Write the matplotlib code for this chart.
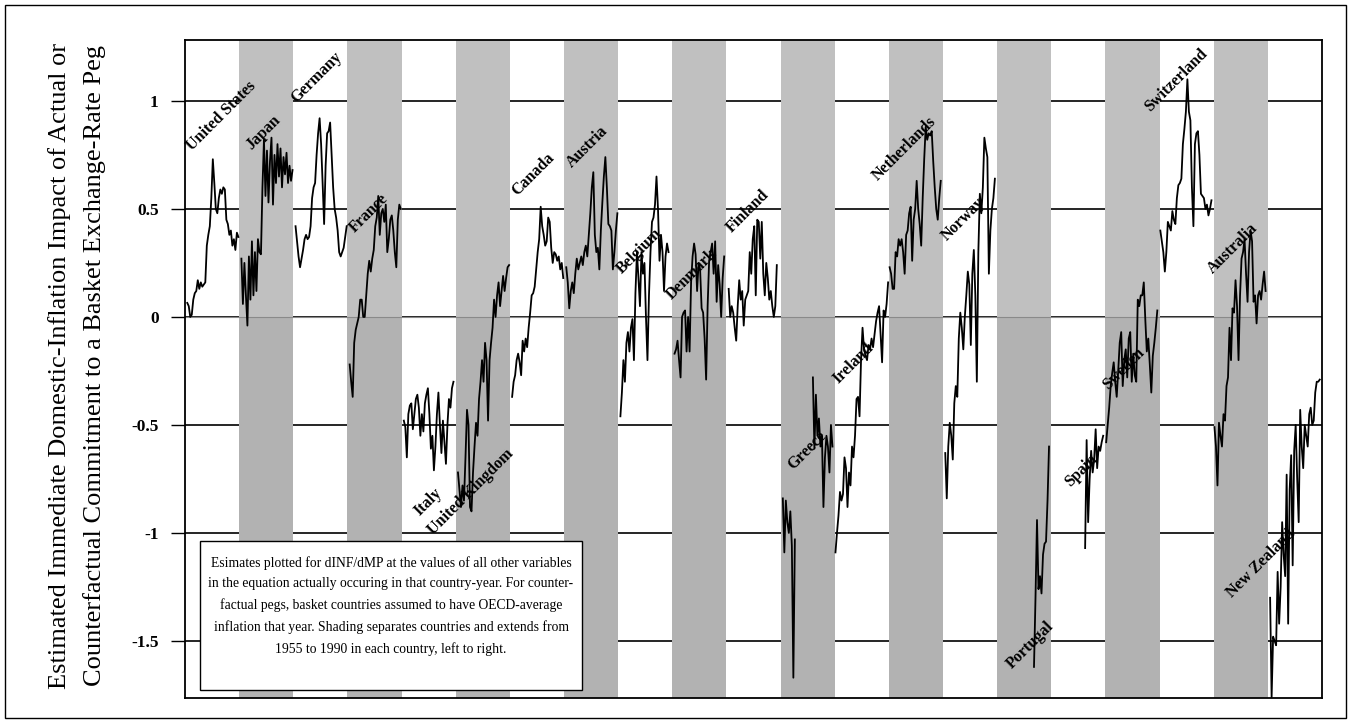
import numpy as np
import matplotlib.pyplot as plt
from matplotlib.patches import Rectangle

plt.rcParams['font.family'] = ['Liberation Serif', 'DejaVu Serif']

nan = np.nan

# one value per year, 1955-1990, for every country (nan = no estimate)
years = list(range(1955, 1991))

countries = ['United States', 'Japan', 'Germany', 'France', 'Italy', 'United Kingdom',
             'Canada', 'Austria', 'Belgium', 'Denmark', 'Finland', 'Greece', 'Ireland',
             'Netherlands', 'Norway', 'Portugal', 'Spain', 'Sweden', 'Switzerland',
             'Australia', 'New Zealand']

united_states = [nan, 0.065, 0.05, 0.0, 0.01, 0.08, 0.11, 0.12, 0.17, 0.13, 0.16, 0.14,
                 0.15, 0.16, 0.33, 0.38, 0.42, 0.55, 0.73, 0.62, 0.50, 0.48, 0.55, 0.59,
                 0.57, 0.60, 0.59, 0.45, 0.43, 0.38, 0.40, 0.33, 0.36, 0.31, 0.39, 0.37]
japan = [nan, 0.27, 0.06, 0.25, 0.10, -0.04, 0.28, 0.08, 0.35, 0.10, 0.30, 0.12,
         0.36, 0.30, 0.29, 0.60, 0.82, 0.56, 0.77, 0.53, 0.72, 0.83, 0.52, 0.75,
         0.62, 0.80, 0.65, 0.78, 0.60, 0.74, 0.66, 0.76, 0.62, 0.70, 0.63, 0.68]
germany = [nan, 0.42, 0.35, 0.28, 0.23, 0.27, 0.31, 0.36, 0.38, 0.36, 0.37, 0.42,
           0.55, 0.60, 0.62, 0.75, 0.85, 0.92, 0.80, 0.62, 0.43, 0.70, 0.85, 0.86,
           0.90, 0.75, 0.60, 0.50, 0.46, 0.40, 0.30, 0.28, 0.30, 0.32, 0.37, 0.42]
france = [nan, -0.22, -0.30, -0.37, -0.12, -0.06, -0.03, 0.0, 0.08, 0.08, 0.0, 0.0,
          0.10, 0.20, 0.26, 0.21, 0.27, 0.31, 0.42, 0.46, 0.56, 0.38, 0.48, 0.50,
          0.44, 0.52, 0.30, 0.36, 0.45, 0.47, 0.40, 0.30, 0.23, 0.45, 0.52, 0.50]
italy = [nan, -0.48, -0.51, -0.65, -0.45, -0.41, -0.40, -0.52, -0.45, -0.38, -0.36, -0.42,
         -0.55, -0.45, -0.53, -0.40, -0.36, -0.33, -0.45, -0.61, -0.55, -0.71, -0.60, -0.45,
         -0.35, -0.50, -0.63, -0.48, -0.58, -0.68, -0.50, -0.38, -0.42, -0.33, -0.30, nan]
united_kingdom = [nan, -0.72, -0.80, -0.88, -0.78, -0.85, -0.65, -0.43, -0.50, -0.88, -0.90, -0.72,
                  -0.60, -0.49, -0.55, -0.38, -0.30, -0.20, -0.30, -0.12, -0.20, -0.48, -0.20, -0.12,
                  -0.05, 0.08, 0.0, 0.10, 0.16, 0.05, 0.12, 0.19, 0.12, 0.18, 0.23, 0.24]
canada = [nan, -0.37, -0.30, -0.27, -0.20, -0.17, -0.21, -0.27, -0.11, -0.16, -0.10, -0.14,
          -0.05, 0.02, 0.10, 0.11, 0.14, 0.22, 0.30, 0.36, 0.51, 0.42, 0.38, 0.33,
          0.35, 0.46, 0.44, 0.32, 0.25, 0.30, 0.29, 0.26, 0.28, 0.22, 0.25, 0.18]
austria = [nan, 0.23, 0.16, 0.04, 0.12, 0.16, 0.11, 0.20, 0.27, 0.22, 0.25, 0.28,
           0.24, 0.30, 0.33, 0.28, 0.38, 0.48, 0.60, 0.67, 0.38, 0.30, 0.32, 0.22,
           0.40, 0.53, 0.65, 0.74, 0.60, 0.43, 0.42, 0.40, 0.22, 0.30, 0.40, 0.48]
belgium = [nan, -0.46, -0.35, -0.20, -0.30, -0.12, -0.07, -0.16, -0.05, -0.01, -0.20, 0.11,
           0.30, 0.18, 0.05, 0.30, 0.20, 0.25, 0.0, -0.20, 0.10, 0.30, 0.44, 0.46,
           0.52, 0.65, 0.50, 0.26, 0.38, 0.30, 0.12, 0.28, 0.34, 0.30, nan, nan]
denmark = [nan, -0.17, -0.15, -0.11, -0.20, -0.28, 0.0, 0.02, 0.03, -0.16, 0.0, -0.16,
           0.16, 0.28, 0.34, 0.29, 0.12, 0.25, 0.22, 0.04, 0.02, -0.10, -0.29, 0.05,
           0.26, 0.30, 0.34, 0.20, 0.35, 0.07, 0.24, 0.15, 0.0, 0.18, 0.28, nan]
finland = [nan, 0.13, 0.0, 0.05, 0.02, -0.05, -0.11, 0.05, 0.17, 0.08, 0.12, -0.04,
           0.08, 0.10, 0.12, 0.30, 0.20, 0.36, 0.42, 0.10, 0.45, 0.44, 0.27, 0.44,
           0.20, 0.10, 0.25, 0.18, 0.08, 0.12, 0.05, 0.0, 0.05, 0.24, nan, nan]
greece = [nan, -0.84, -1.09, -0.85, -0.95, -1.00, -0.90, -1.06, -1.67, -1.03, nan, nan,
          nan, nan, nan, nan, nan, nan, nan, nan, nan, -0.28, -0.61, -0.36,
          -0.55, -0.47, -0.60, -0.55, -0.88, -0.65, -0.55, -0.60, -0.72, -0.50, -0.60, nan]
ireland = [-1.09, -1.00, -0.92, -0.81, -0.85, -0.82, -0.65, -0.70, -0.88, -0.72, -0.78, -0.60,
           -0.65, -0.55, -0.38, -0.37, -0.46, -0.20, -0.05, -0.15, -0.18, -0.20, -0.13, -0.15,
           -0.10, -0.14, -0.08, -0.02, 0.02, 0.05, -0.08, -0.21, 0.03, 0.0, 0.06, 0.16]
netherlands = [0.23, 0.20, 0.13, 0.13, 0.30, 0.28, 0.36, 0.33, 0.36, 0.30, 0.20, 0.38,
               0.40, 0.48, 0.51, 0.26, 0.45, 0.50, 0.63, 0.50, 0.43, 0.33, 0.55, 0.73,
               0.88, 0.82, 0.85, 0.84, 0.86, 0.72, 0.60, 0.50, 0.45, 0.55, 0.63, nan]
norway = [nan, -0.63, -0.84, -0.60, -0.49, -0.55, -0.66, -0.40, -0.32, -0.37, -0.10, 0.02,
          -0.05, -0.15, 0.0, 0.10, 0.21, 0.15, -0.13, 0.20, 0.31, 0.10, -0.30, 0.30,
          0.57, 0.48, 0.60, 0.83, 0.78, 0.74, 0.20, 0.40, 0.50, 0.55, 0.64, nan]
portugal = [nan, nan, nan, nan, nan, nan, nan, nan, nan, nan, nan, nan,
            nan, nan, nan, nan, nan, nan, nan, nan, nan, nan, nan, nan,
            -1.62, -1.30, -0.94, -1.26, -1.20, -1.28, -1.10, -1.05, -1.04, -0.85, -0.60, nan]
spain = [nan, nan, nan, nan, nan, nan, nan, nan, nan, nan, nan, nan,
         nan, nan, nan, nan, nan, nan, nan, nan, nan, nan, -1.07, -0.57,
         -0.95, -0.75, -0.62, -0.72, -0.66, -0.52, -0.70, -0.60, -0.62, -0.58, -0.55, nan]
sweden = [-0.58, -0.50, -0.42, -0.32, -0.26, -0.21, -0.30, -0.37, -0.25, -0.12, -0.07, -0.32,
          -0.20, -0.15, -0.28, -0.10, -0.07, -0.30, -0.17, -0.27, -0.30, 0.08, 0.05, 0.10,
          0.10, 0.16, -0.01, -0.16, -0.10, -0.22, -0.35, -0.18, -0.12, -0.05, 0.03, nan]
switzerland = [0.40, 0.35, 0.30, 0.21, 0.30, 0.44, 0.42, 0.40, 0.49, 0.45, 0.43, 0.55,
               0.61, 0.62, 0.64, 0.80, 0.87, 0.95, 1.10, 0.95, 0.91, 0.60, 0.42, 0.80,
               0.85, 0.86, 0.75, 0.57, 0.56, 0.55, 0.50, 0.52, 0.47, 0.50, 0.54, nan]
australia = [-0.51, -0.60, -0.78, -0.49, -0.55, -0.60, -0.45, -0.48, -0.32, -0.28, -0.05, -0.20,
             0.04, 0.02, 0.17, 0.05, -0.20, 0.10, 0.27, 0.30, 0.36, 0.20, 0.07, 0.30,
             0.40, 0.35, 0.07, 0.10, -0.03, 0.10, 0.12, 0.08, 0.15, 0.21, 0.12, nan]
new_zealand = [nan, -1.30, -1.76, -1.48, -1.50, -1.52, -1.18, -1.42, -1.25, -0.95, -1.10, -1.20,
               -0.73, -1.42, -0.80, -0.64, -1.15, -0.62, -0.50, -0.75, -0.95, -0.43, -0.60, -0.70,
               -0.50, -0.55, -0.60, -0.45, -0.42, -0.50, -0.48, -0.35, -0.30, -0.30, -0.29, nan]

series = [united_states, japan, germany, france, italy, united_kingdom, canada, austria,
          belgium, denmark, finland, greece, ireland, netherlands, norway, portugal, spain,
          sweden, switzerland, australia, new_zealand]

yticks = [-1.5, -1, -0.5, 0, 0.5, 1]
ytick_labels = ['-1.5', '-1', '-0.5', '0', '0.5', '1']

# where each rotated country name starts (year position, value)
label_pos = [(4.7, 0.77), (44.5, 0.77), (73.8, 0.99), (113.0, 0.39), (156.3, -0.92),
             (164.9, -1.01), (220.7, 0.56), (257.3, 0.69), (290.6, 0.20), (323.8, 0.08),
             (363.7, 0.39), (404.3, -0.71), (434.2, -0.31), (460.8, 0.63), (506.6, 0.35),
             (549.9, -1.63), (588.4, -0.79), (613.7, -0.34), (641.6, 0.95), (683.5, 0.20),
             (696.1, -1.30)]

n = len(years)
ymin, ymax = -1.764, 1.282

W, H = 1351, 723
fig = plt.figure(figsize=(W / 100, H / 100), dpi=100)
ax = fig.add_axes([185 / W, 1 - 698 / H, (1322 - 185) / W, (698 - 40) / H])

# horizontal grid under the shading
for t in yticks:
    ax.axhline(t, color='black', lw=1.2, zorder=0.5)

# shading: every other country gets a grey column, lighter above zero
shade_idx = list(range(1, len(countries), 2))
centers = [k * n + n / 2 for k in shade_idx]
ax.bar(centers, [ymax] * len(centers), width=n, color='#c0c0c0', zorder=1, linewidth=0)
ax.bar(centers, [ymin] * len(centers), width=n, color='#b2b2b2', zorder=1, linewidth=0)
ax.axhline(0, color='#8a8a8a', lw=0.8, zorder=1.5)

for k, vals in enumerate(series):
    x = k * n + np.arange(n) + 0.5
    ax.plot(x, vals, color='black', lw=1.3, zorder=3)

for name, (lx, ly) in zip(countries, label_pos):
    ax.text(lx, ly, name, rotation=45, rotation_mode='anchor', ha='left', va='baseline',
            fontsize=11.5, fontweight='bold', zorder=4)

ax.set_xlim(0, n * len(countries))
ax.set_ylim(ymin, ymax)
ax.set_xticks([])
ax.set_yticks(yticks)
ax.set_yticklabels(ytick_labels, fontsize=12.5, fontweight='bold')
ax.tick_params(axis='y', direction='out', length=10, width=1, pad=9, color='black')
for s in ax.spines.values():
    s.set_color('black')
    s.set_linewidth(1.3)
    s.set_zorder(5)

fig.text(60 / W, 1 - 366 / H, 'Estimated Immediate Domestic-Inflation Impact of Actual or',
         rotation=90, ha='center', va='center', fontsize=19)
fig.text(95 / W, 1 - 366 / H, 'Counterfactual Commitment to a Basket Exchange-Rate Peg',
         rotation=90, ha='center', va='center', fontsize=19)

# note box in the lower left of the plot
fig.patches.append(Rectangle((200 / W, 1 - 690 / H), 382 / W, 149 / H, transform=fig.transFigure,
                             facecolor='white', edgecolor='black', lw=1, zorder=6))
note = ('Esimates plotted for dINF/dMP at the values of all other variables\n'
        'in the equation actually occuring in that country-year. For counter-\n'
        'factual pegs, basket countries assumed to have OECD-average\n'
        'inflation that year. Shading separates countries and extends from\n'
        '1955 to 1990 in each country, left to right.')
fig.text(391 / W, 1 - 606 / H, note, ha='center', va='center', fontsize=9.8,
         linespacing=1.75, zorder=7)

# thin frame round the whole chart
fig.patches.append(Rectangle((5 / W, 5 / H), 1341 / W, 713 / H, transform=fig.transFigure,
                             fill=False, edgecolor='black', lw=1))

fig.savefig('out.png', dpi=100)
